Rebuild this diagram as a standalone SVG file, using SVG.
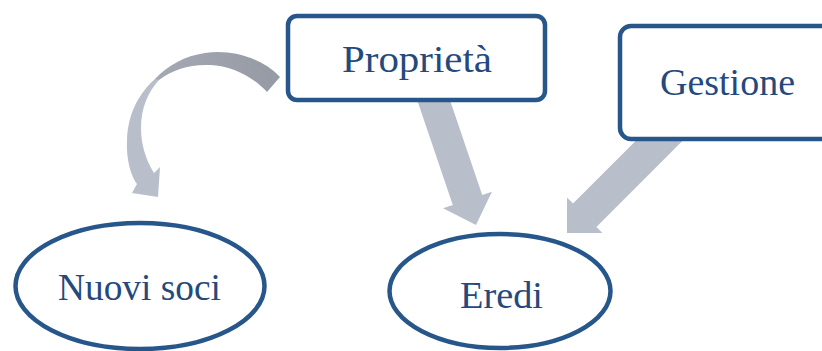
<svg xmlns="http://www.w3.org/2000/svg" width="822" height="351" viewBox="0 0 822 351">
  <style>
    .node { fill: #ffffff; stroke: #27568a; stroke-width: 4.5; }
    .label { font-family: "Liberation Serif", "DejaVu Serif", serif; font-size: 38px; fill: #24497c; }
    .flow { fill: #b9becb; }
  </style>
  <defs>
    <linearGradient id="arcShade" x1="150" y1="0" x2="280" y2="0" gradientUnits="userSpaceOnUse">
      <stop offset="0" stop-color="#a4a9b5"/>
      <stop offset="1" stop-color="#959aa5"/>
    </linearGradient>
  </defs>

  <!-- connectors -->
  <g id="connectors">
    <!-- curved arrow: Proprietà to Nuovi soci -->
    <path class="flow" d="M156,78 C140,92 128,112 127,140 C126,160 131,176 137,184 L132,193 L158,197 L160,167 L154,173 C146,160 141,145 141,128 C141,108 148,92 159,80 Z"/>
    <path fill="url(#arcShade)" d="M280,77 C262,58 232,49 205,53 C185,56 168,65 155,79 L159,80 C172,70 190,64 210,65 C232,66 252,76 267,92 Z"/>
    <!-- Proprietà to Eredi -->
    <polygon class="flow" points="415.8,96.1 445.2,86.1 482.2,195 491.9,191.7 476,225 443.1,208.3 452.8,205"/>
    <!-- Gestione to Eredi -->
    <polygon class="flow" points="664.9,111.7 688.3,135.1 596.4,227 602.4,233 567,233 567,197.6 573,203.6"/>
  </g>

  <g id="node-proprieta">
    <rect class="node" x="288" y="16" width="257" height="84" rx="9"/>
    <text class="label" x="342" y="72" textLength="150" lengthAdjust="spacingAndGlyphs">Proprietà</text>
  </g>

  <g id="node-gestione">
    <rect class="node" x="620" y="26" width="240" height="113" rx="11"/>
    <text class="label" x="660" y="95" textLength="135" lengthAdjust="spacingAndGlyphs">Gestione</text>
  </g>

  <g id="node-nuovi-soci">
    <ellipse class="node" cx="140" cy="286" rx="124.5" ry="63"/>
    <text class="label" x="58" y="300" textLength="163" lengthAdjust="spacingAndGlyphs">Nuovi soci</text>
  </g>

  <g id="node-eredi">
    <ellipse class="node" cx="500" cy="291" rx="110.5" ry="57"/>
    <text class="label" x="460" y="308" textLength="83" lengthAdjust="spacingAndGlyphs">Eredi</text>
  </g>
</svg>
